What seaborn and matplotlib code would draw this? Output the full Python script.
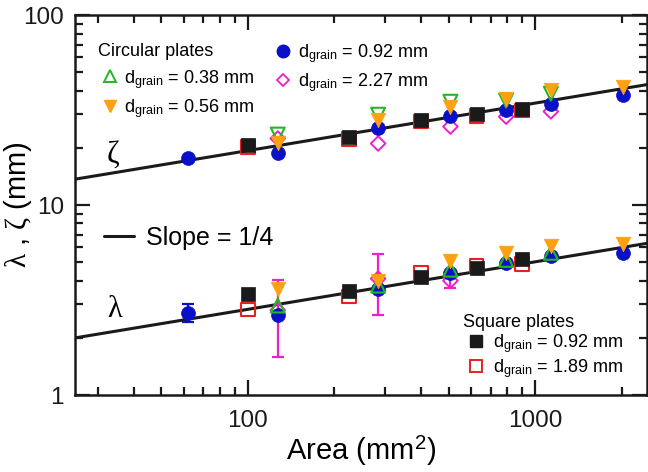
import matplotlib
matplotlib.use("Agg")
import matplotlib.pyplot as plt
from matplotlib import ticker
from matplotlib.lines import Line2D
import seaborn as sns
import numpy as np
import pandas as pd

# plate areas (mm^2)
circ_area = [62, 127, 284, 507, 792, 1134, 2027]
sq_area = [100, 225, 400, 625, 900]

# zeta (upper set)
zeta_092 = [17.6, 18.9, 25.6, 29.6, 31.8, 34.2, 38.1]
zeta_038 = [np.nan, 23.5, 29.9, 35.0, 35.5, 38.6, np.nan]
zeta_056 = [np.nan, 21.1, 27.9, 33.0, 36.3, 40.5, 42.0]
zeta_227 = [np.nan, 22.4, 21.1, 25.9, 29.2, 31.1, np.nan]
zeta_sq092 = [20.6, 22.8, 28.0, 30.0, 32.2]
zeta_sq189 = [20.2, 22.3, 27.5, 29.5, 31.4]

# lambda (lower set)
lam_092 = [2.72, 2.65, 3.63, 4.40, 4.97, 5.41, 5.61]
lam_092_err = [0.31, 0, 0, 0, 0, 0, 0]
lam_038 = [np.nan, 2.96, 3.77, 4.57, 5.15, 5.61, np.nan]
lam_056 = [np.nan, 3.63, 4.00, 5.09, 5.61, 6.10, 6.25]
lam_227 = [np.nan, 2.80, 4.10, 4.00, np.nan, np.nan, np.nan]
lam_227_err = [0, 1.22, 1.45, 0.35, 0, 0, 0]
lam_sq092 = [3.42, 3.55, 4.20, 4.68, 5.21]
lam_sq189 = [2.82, 3.30, 4.40, 4.80, 4.91]

# power-law guides, slope 1/4
slope = 0.25
zeta_coef = 6.12
lam_coef = 0.894

BLUE = "#0a0fc8"
GREEN = "#22b822"
ORANGE = "#ffa010"
PINK = "#f020c8"
RED = "#e82020"

sns.set_theme(style="ticks", rc={"text.color": "black", "axes.labelcolor": "black",
                                 "xtick.color": "black", "ytick.color": "black",
                                 "axes.edgecolor": "black"})
plt.rcParams['font.family'] = ['Liberation Sans', 'DejaVu Sans']
plt.rcParams['mathtext.fontset'] = 'custom'
plt.rcParams['mathtext.rm'] = 'Liberation Sans'
plt.rcParams['mathtext.it'] = 'Liberation Serif'
plt.rcParams['mathtext.bf'] = 'Liberation Sans:bold'

fig = plt.figure(figsize=(6.48, 4.72), dpi=100)
ax = fig.add_axes([0.1157, 0.163, 0.8827, 0.805])
ax.set_xscale("log")
ax.set_yscale("log")

# fit lines
A = np.geomspace(25, 2450, 60)
sns.lineplot(x=A, y=zeta_coef * A ** slope, color="k", lw=2.2, ax=ax, zorder=2)
sns.lineplot(x=A, y=lam_coef * A ** slope, color="k", lw=2.2, ax=ax, zorder=2)

ax.errorbar(circ_area, lam_227, yerr=lam_227_err, fmt="none", ecolor=PINK,
            elinewidth=1.6, capsize=4, capthick=1.6, zorder=3)
ax.errorbar(circ_area, lam_092, yerr=lam_092_err, fmt="none", ecolor=BLUE,
            elinewidth=1.6, capsize=4, capthick=1.6, zorder=3)

for vals in [zeta_sq189, lam_sq189]:
    sns.scatterplot(x=sq_area, y=vals, marker="s", s=95, facecolor="none",
                    edgecolor=RED, linewidth=1.5, ax=ax, zorder=4)
for vals in [zeta_sq092, lam_sq092]:
    sns.scatterplot(x=sq_area, y=vals, marker="s", s=105, color="k",
                    edgecolor="k", linewidth=0.5, ax=ax, zorder=5)
for vals in [zeta_227, lam_227]:
    sns.scatterplot(x=circ_area, y=vals, marker="D", s=55, facecolor="none",
                    edgecolor=PINK, linewidth=1.4, ax=ax, zorder=6)
for vals in [zeta_092, lam_092]:
    sns.scatterplot(x=circ_area, y=vals, marker="o", s=100, color=BLUE,
                    edgecolor=BLUE, linewidth=0.5, ax=ax, zorder=7)
sns.scatterplot(x=circ_area, y=zeta_038, marker="v", s=100, facecolor="none",
                edgecolor=GREEN, linewidth=1.5, ax=ax, zorder=8)
sns.scatterplot(x=circ_area, y=lam_038, marker="^", s=100, facecolor="none",
                edgecolor=GREEN, linewidth=1.5, ax=ax, zorder=8)
for vals in [zeta_056, lam_056]:
    sns.scatterplot(x=circ_area, y=vals, marker="v", s=110, color=ORANGE,
                    edgecolor=ORANGE, linewidth=0.5, ax=ax, zorder=9)

ax.set_xlim(25, 2450)
ax.set_ylim(1, 100)

fmt = ticker.FuncFormatter(lambda v, p: f"{v:g}")
ax.xaxis.set_major_formatter(fmt)
ax.yaxis.set_major_formatter(fmt)
ax.xaxis.set_minor_formatter(ticker.NullFormatter())
ax.yaxis.set_minor_formatter(ticker.NullFormatter())
ax.tick_params(which="both", direction="in", top=True, right=True,
               width=1.6, color="k", labelcolor="k", labelsize=17.5)
ax.tick_params(which="major", length=11)
ax.tick_params(which="minor", length=6)
ax.tick_params(axis="x", pad=11)
ax.tick_params(axis="y", pad=8)
for sp in ax.spines.values():
    sp.set_linewidth(1.8)
    sp.set_color("k")

ax.set_xlabel("Area (mm$^{2}$)", fontsize=21, labelpad=1)
ax.set_ylabel(r"$\lambda$ , $\zeta$ (mm)", fontsize=21)
ax.yaxis.set_label_coords(-0.072, 0.5)

ax.text(33.8, 18.5, r"$\zeta$", fontsize=22, ha="center", va="center")
ax.text(34.6, 2.85, r"$\lambda$", fontsize=22, ha="center", va="center")

# legends
blank = Line2D([], [], linestyle="none")
circ_handles = [
    blank,
    Line2D([], [], ls="none", marker="^", ms=8, mfc="none", mec=GREEN, mew=1.4),
    Line2D([], [], ls="none", marker="v", ms=9, color=ORANGE),
    Line2D([], [], ls="none", marker="o", ms=9, color=BLUE),
    Line2D([], [], ls="none", marker="D", ms=6.5, mfc="none", mec=PINK, mew=1.3),
    blank,
]
circ_labels = ["",
               r"d$_{\mathrm{grain}}$ = 0.38 mm",
               r"d$_{\mathrm{grain}}$ = 0.56 mm",
               r"d$_{\mathrm{grain}}$ = 0.92 mm",
               r"d$_{\mathrm{grain}}$ = 2.27 mm",
               ""]
leg1 = ax.legend(circ_handles, circ_labels, ncol=2, frameon=False, fontsize=13,
                 loc="upper left", bbox_to_anchor=(0.045, 0.929),
                 borderpad=0, borderaxespad=0, handlelength=1.0,
                 handletextpad=0.3, columnspacing=1.1, labelspacing=0.35)
ax.add_artist(leg1)
ax.text(0.040, 0.905, "Circular plates", transform=ax.transAxes,
        fontsize=13, va="center", ha="left")

sq_handles = [
    Line2D([], [], ls="none", marker="s", ms=9, color="k"),
    Line2D([], [], ls="none", marker="s", ms=9, mfc="none", mec=RED, mew=1.4),
]
leg2 = ax.legend(sq_handles, [r"d$_{\mathrm{grain}}$ = 0.92 mm",
                              r"d$_{\mathrm{grain}}$ = 1.89 mm"],
                 title="Square plates", alignment="left", frameon=False,
                 fontsize=13, title_fontsize=13, loc="upper left",
                 bbox_to_anchor=(0.678, 0.214), borderpad=0, borderaxespad=0,
                 handlelength=1.5, handletextpad=0.15, labelspacing=0.1)
ax.add_artist(leg2)

ax.legend([Line2D([], [], color="k", lw=2.2)], ["Slope = 1/4"], frameon=False,
          fontsize=18, loc="center left", bbox_to_anchor=(0.05, 0.413),
          borderpad=0, borderaxespad=0, handlelength=1.2, handletextpad=0.5)

fig.savefig("out.png", dpi=100)
